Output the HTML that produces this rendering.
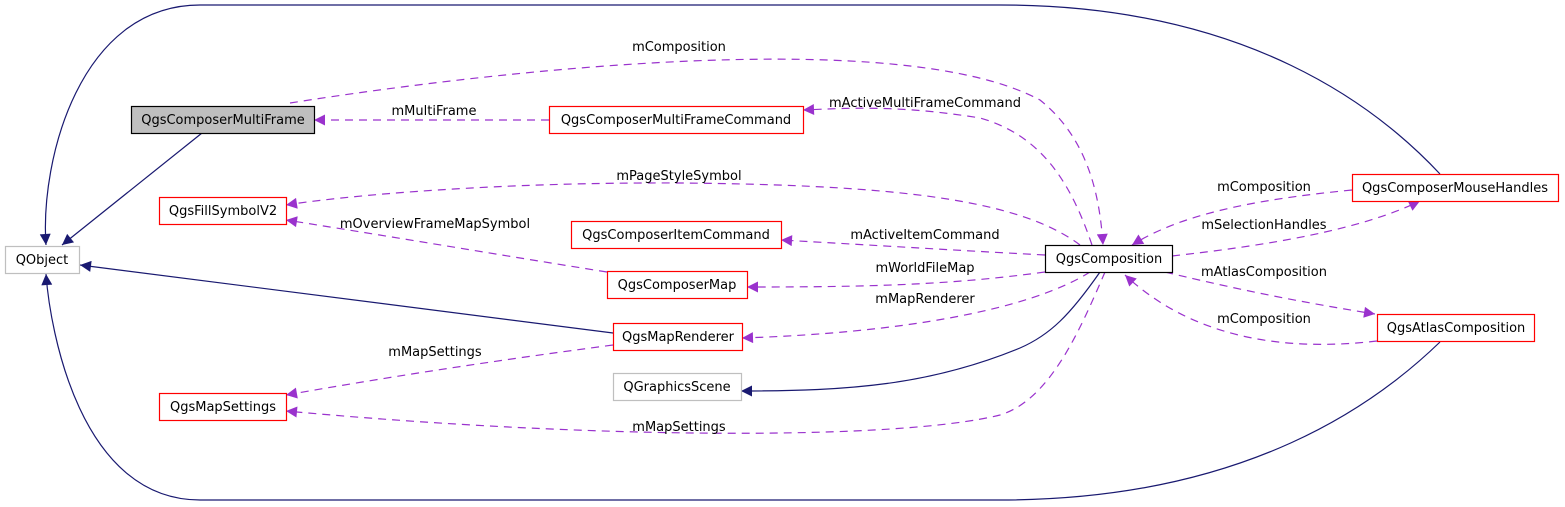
<!DOCTYPE html>
<html><head><meta charset="utf-8"><style>
html,body{margin:0;padding:0;background:#fff;}
svg{display:block;}
text{font-family:"DejaVu Sans","Liberation Sans",sans-serif;font-size:13px;fill:#000;}
</style></head><body>
<svg width="1565" height="507" viewBox="0 0 1565 507" xmlns="http://www.w3.org/2000/svg">
<defs>
<marker id="pa" viewBox="0 0 10 10" refX="10" refY="5" markerWidth="14" markerHeight="11" markerUnits="userSpaceOnUse" orient="auto"><path d="M0,0 L10,5 L0,10 z" fill="#9a32cd"/></marker>
<marker id="na" viewBox="0 0 10 10" refX="10" refY="5" markerWidth="14" markerHeight="11" markerUnits="userSpaceOnUse" orient="auto"><path d="M0,0 L10,5 L0,10 z" fill="#191970"/></marker>
</defs>
<g fill="none" stroke="#191970" stroke-width="1.2" marker-end="url(#na)">
<path d="M202,133 L62,245"/>
<path d="M1440,174 C1380,110 1250,5 1000,5 L200,5 C80,5 40,160 46,245"/>
<path d="M1440,342 C1380,400 1250,500 1000,500 L200,500 C80,500 50,330 46,274"/>
<path d="M613,333 L80,265"/>
<path d="M1100,272 C1070,315 1050,335 1020,348 C930,385 850,391 741,391"/>
</g>
<g fill="none" stroke="#9a32cd" stroke-width="1.2" stroke-dasharray="8,6" marker-end="url(#pa)">
<path d="M290,103 C500,70 900,25 1040,100 C1090,140 1100,200 1103,245"/>
<path d="M549,120 L314,120"/>
<path d="M1092,245 C1070,180 1040,135 980,118 C900,105 850,108 803,110"/>
<path d="M1080,245 C1020,200 900,185 680,183 C500,182 350,195 286,205"/>
<path d="M607,272 C500,255 400,238 286,220"/>
<path d="M1045,255 C950,250 870,245 781,240"/>
<path d="M1045,272 C950,285 870,287 747,287"/>
<path d="M1090,272 C1030,310 900,333 742,338"/>
<path d="M613,345 C500,360 400,375 286,395"/>
<path d="M1105,272 C1080,330 1050,400 1000,415 C900,440 600,440 286,411"/>
<path d="M1352,190 C1250,200 1180,215 1132,245"/>
<path d="M1172,256 C1270,245 1360,230 1420,201"/>
<path d="M1165,272 C1240,290 1300,302 1375,314"/>
<path d="M1377,341 C1300,350 1200,345 1125,275"/>
</g>
<g stroke-width="1.2">
<rect x="131.5" y="106.5" width="183" height="27" fill="#bfbfbf" stroke="#000"/>
<rect x="5.5" y="246.5" width="74" height="27" fill="#fff" stroke="#bfbfbf"/>
<rect x="159.5" y="197.5" width="127" height="27" fill="#fff" stroke="#ff0000"/>
<rect x="549.5" y="106.5" width="254" height="27" fill="#fff" stroke="#ff0000"/>
<rect x="571.5" y="221.5" width="210" height="27" fill="#fff" stroke="#ff0000"/>
<rect x="607.5" y="271.5" width="140" height="27" fill="#fff" stroke="#ff0000"/>
<rect x="613.5" y="323.5" width="129" height="27" fill="#fff" stroke="#ff0000"/>
<rect x="613.5" y="373.5" width="128" height="27" fill="#fff" stroke="#bfbfbf"/>
<rect x="159.5" y="393.5" width="127" height="27" fill="#fff" stroke="#ff0000"/>
<rect x="1045.5" y="245.5" width="127" height="27" fill="#fff" stroke="#000"/>
<rect x="1352.5" y="174.5" width="206" height="27" fill="#fff" stroke="#ff0000"/>
<rect x="1377.5" y="314.5" width="157" height="27" fill="#fff" stroke="#ff0000"/>
</g>
<g text-anchor="middle">
<text x="223" y="124">QgsComposerMultiFrame</text>
<text x="42" y="264">QObject</text>
<text x="223" y="215">QgsFillSymbolV2</text>
<text x="676" y="124">QgsComposerMultiFrameCommand</text>
<text x="676" y="239">QgsComposerItemCommand</text>
<text x="677" y="289">QgsComposerMap</text>
<text x="678" y="341">QgsMapRenderer</text>
<text x="677" y="391">QGraphicsScene</text>
<text x="223" y="411">QgsMapSettings</text>
<text x="1109" y="263">QgsComposition</text>
<text x="1455" y="192">QgsComposerMouseHandles</text>
<text x="1456" y="332">QgsAtlasComposition</text>
<text x="679" y="51">mComposition</text>
<text x="434" y="115">mMultiFrame</text>
<text x="925" y="107">mActiveMultiFrameCommand</text>
<text x="679" y="180">mPageStyleSymbol</text>
<text x="435" y="228">mOverviewFrameMapSymbol</text>
<text x="925" y="239">mActiveItemCommand</text>
<text x="925" y="272">mWorldFileMap</text>
<text x="925" y="303">mMapRenderer</text>
<text x="435" y="356">mMapSettings</text>
<text x="679" y="431">mMapSettings</text>
<text x="1264" y="191">mComposition</text>
<text x="1264" y="229">mSelectionHandles</text>
<text x="1264" y="276">mAtlasComposition</text>
<text x="1264" y="323">mComposition</text>
</g>
</svg>
</body></html>
